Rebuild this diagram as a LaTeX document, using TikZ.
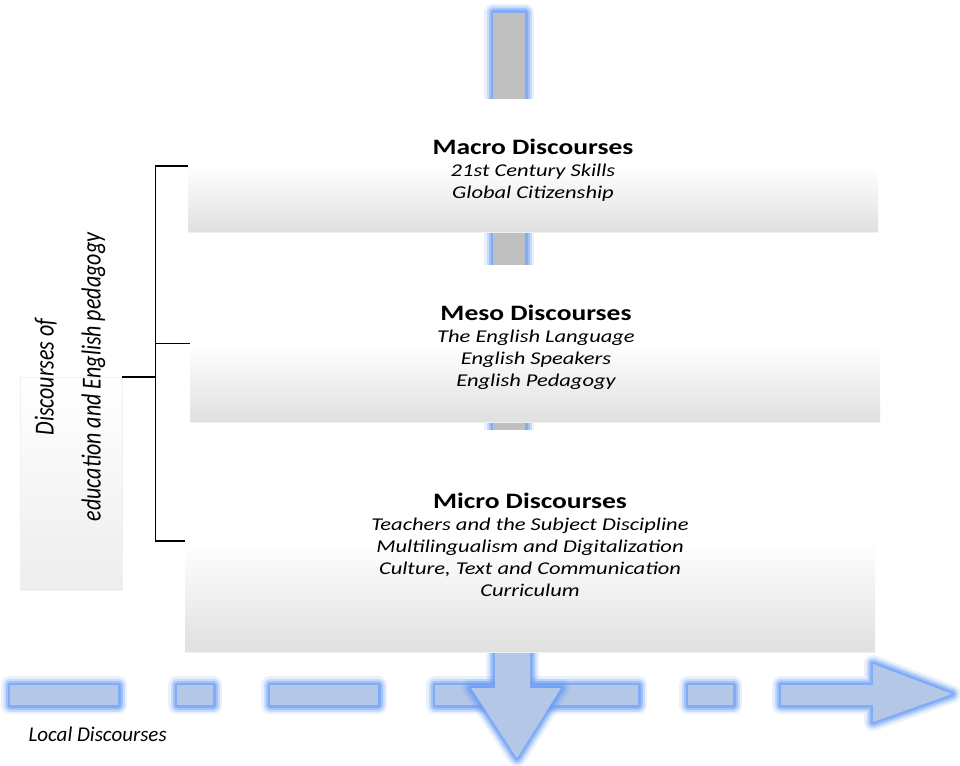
\documentclass[tikz,border=0pt]{standalone}
\usepackage{fontspec}
\setmainfont{Carlito}
\newfontfamily\wideit[FakeStretch=1.25]{Carlito}
\newfontfamily\sidefont[FakeStretch=0.8]{Carlito}
\definecolor{barfill}{HTML}{BFBFBF}
\definecolor{glowc}{HTML}{6A9DF5}
\definecolor{dashfill}{HTML}{B4C7E7}
\definecolor{boxbot}{HTML}{E0E0E0}
\newcommand\glowdraw[2]{%
  \foreach \w/\o in {18/0.14,13/0.25,9/0.4,5/0.6}{\draw[glowc,line width=\w pt,opacity=\o,line join=round] #1;}%
  \fill[#2] #1;}
\tikzset{
  levelbox/.style={minimum width=690pt,inner sep=0pt,top color=white,bottom color=boxbot,middle color=white},
  leveltext/.style={align=center,font=\wideit\fontsize{18}{22}\selectfont\itshape},
  bracket/.style={draw=black,line width=1.6pt},
}
\newcommand\ttl[1]{{\fontsize{22}{24}\selectfont\bfseries\upshape #1}}
\begin{document}
\begin{tikzpicture}[x=1pt,y=-1pt]
\useasboundingbox[fill=white] (0,0) rectangle (960,765);
% vertical gray bar behind boxes
\glowdraw{(493,13) rectangle (525,440)}{barfill}
% dashed horizontal arrow
\glowdraw{(10,685) rectangle (118,705)}{dashfill}
\glowdraw{(177,685) rectangle (213,705)}{dashfill}
\glowdraw{(270,685) rectangle (378,705)}{dashfill}
\glowdraw{(435,685) rectangle (638,705)}{dashfill}
\glowdraw{(688,685) rectangle (733,705)}{dashfill}
\glowdraw{(781,685) -- (873,685) -- (873,664) -- (952,694) -- (873,722) -- (873,705) -- (781,705) -- cycle}{dashfill}
% down arrow
\glowdraw{(495,640) -- (495,688) -- (471,688) -- (517,758) -- (561,688) -- (530,688) -- (530,640) -- cycle}{dashfill}
% level boxes
\node[levelbox,minimum height=132pt] (macro) at (533,166) {};
\node[levelbox,minimum height=157pt] (meso) at (535,343.5) {};
\node[levelbox,minimum height=222pt] (micro) at (530,541) {};
\draw[white!88!gray,line width=0.8pt] (macro.south west) -- (macro.south east);
\draw[white!88!gray,line width=0.8pt] (meso.south west) -- (meso.south east);
\draw[white!88!gray,line width=0.8pt] (micro.south west) -- (micro.south east);
\node[leveltext] (macrot) at (533,170) {\ttl{Macro Discourses}\\21st Century Skills\\Global Citizenship};
\node[leveltext] (mesot) at (536,347) {\ttl{Meso Discourses}\\The English Language\\English Speakers\\English Pedagogy};
\node[leveltext] (microt) at (530,545) {\ttl{Micro Discourses}\\Teachers and the Subject Discipline\\Multilingualism and Digitalization\\Culture, Text and Communication\\Curriculum};
% side box
\node[minimum width=102pt,minimum height=213pt,inner sep=0pt,top color=white,bottom color=gray!14,draw=gray!12,line width=0.6pt] (side) at (71,483.5) {};
\node[rotate=90,align=center,font=\sidefont\fontsize{27.5}{47}\selectfont\itshape] (sidet) at (70,377) {Discourses of\\education and English pedagogy};
% bracket
\coordinate (j) at ([xshift=33pt]side.north east);
\draw[bracket] (side.north east) -- (j);
\draw[bracket] (j) |- (macro.west);
\draw[bracket] (j) |- (meso.west);
\draw[bracket] (j) |- (micro.west);
% local discourses
\node[font=\fontsize{21}{24}\selectfont\itshape,anchor=west] (local) at (25,734) {Local Discourses};
\end{tikzpicture}
\end{document}
